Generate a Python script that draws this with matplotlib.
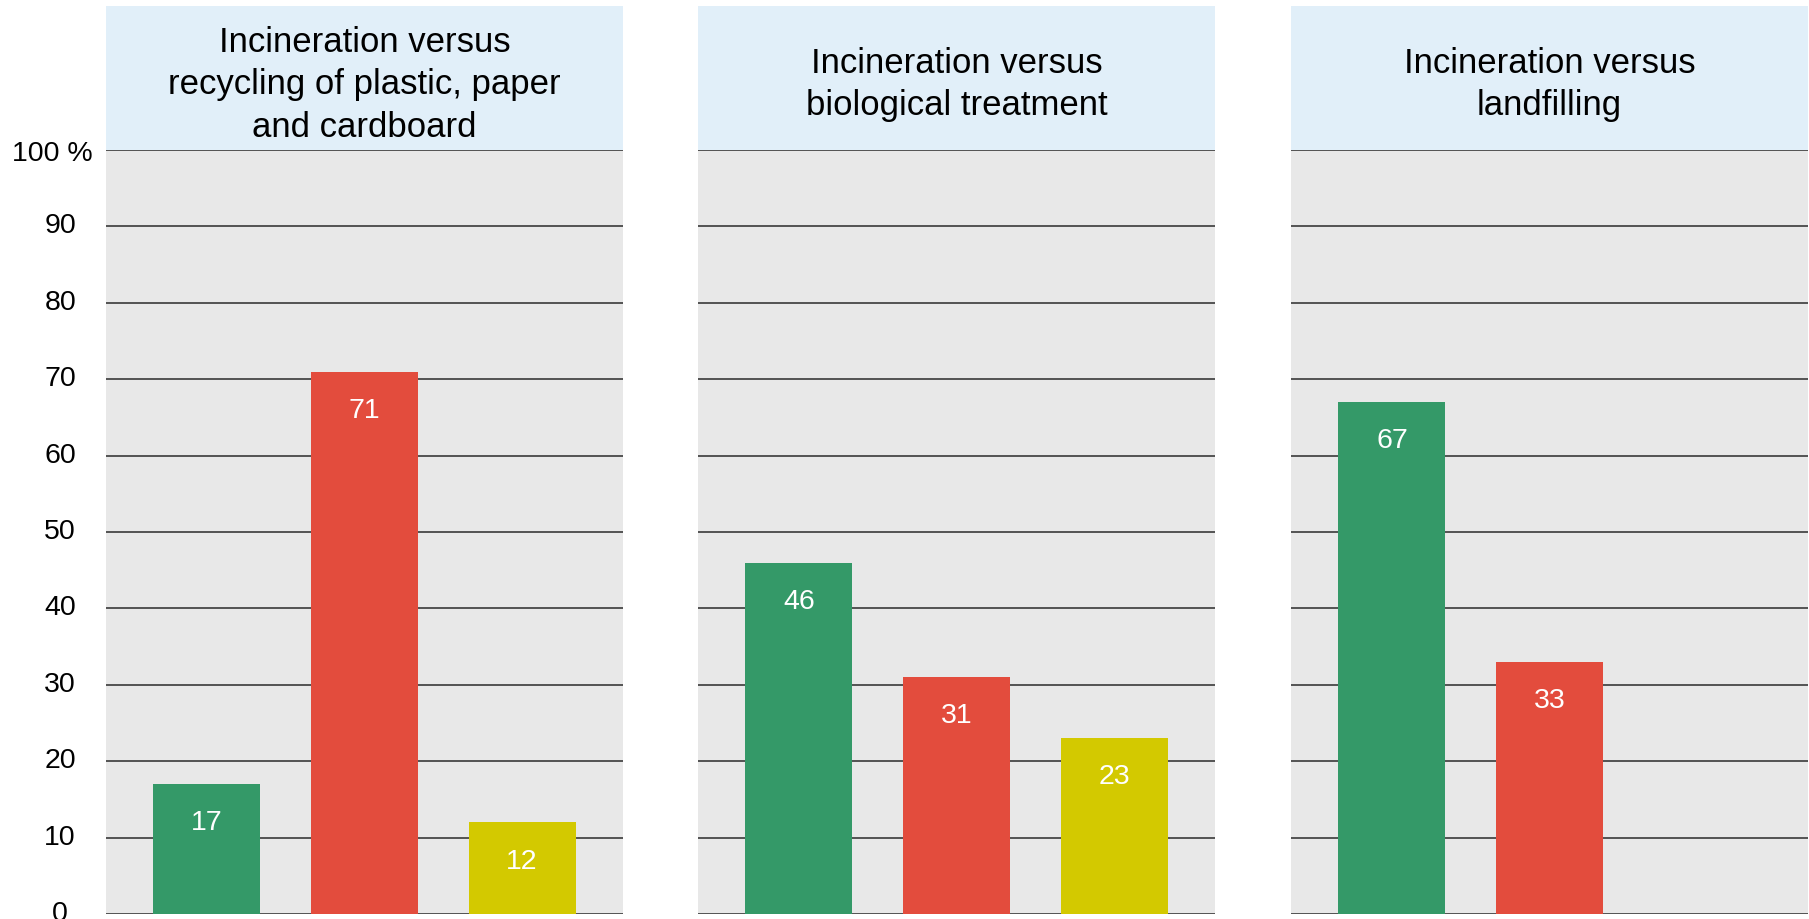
import matplotlib.pyplot as plt
import matplotlib.transforms as mtransforms

titles = [
    "Incineration versus\nrecycling of plastic, paper\nand cardboard",
    "Incineration versus\nbiological treatment",
    "Incineration versus\nlandfilling",
]
values = [
    [17, 71, 12],
    [46, 31, 23],
    [67, 33],
]
bar_colors = ["#349968", "#E34C3D", "#D3C900"]
yticks = [0, 10, 20, 30, 40, 50, 60, 70, 80, 90, 100]
ytick_labels = ["0", "10", "20", "30", "40", "50", "60", "70", "80", "90", "100 %"]

plt.rcParams["font.family"] = ["Liberation Sans", "DejaVu Sans"]

W, H = 1809, 920
fig = plt.figure(figsize=(W / 100, H / 100), dpi=100)

# panel geometry in pixels
lefts = [106, 698, 1291]
pw = 517
y_bot, y_top, y_head = 915, 151, 7

for i, (title, vals) in enumerate(zip(titles, values)):
    ax = fig.add_axes([lefts[i] / W, (H - y_bot) / H, pw / W, (y_bot - y_top) / H])
    ax.set_facecolor("#E8E8E8")
    ax.set_xlim(-0.64, 2.64)
    ax.set_ylim(0, 100)
    ax.set_yticks(yticks)
    ax.yaxis.grid(True, color="#2a2a2a", linewidth=1.1)
    ax.set_axisbelow(True)
    ax.set_xticks([])
    for s in ax.spines.values():
        s.set_visible(False)
    ax.bar(range(len(vals)), vals, width=0.68, color=bar_colors[: len(vals)], zorder=3)
    for x, v in enumerate(vals):
        ax.text(x, v - 5.0, str(v), ha="center", va="center", color="white",
                fontsize=20.5, zorder=4)
    if i == 0:
        labels = ax.set_yticklabels(ytick_labels, fontsize=20.5, ha="center")
        ax.tick_params(axis="y", length=0, pad=33)
        # numbers sit slightly above their lines, "100 %" further left
        up = mtransforms.ScaledTranslation(0, 0.04, fig.dpi_scale_trans)
        left = mtransforms.ScaledTranslation(-0.08, 0, fig.dpi_scale_trans)
        for lab in labels[:-1]:
            lab.set_transform(lab.get_transform() + up)
        labels[-1].set_transform(labels[-1].get_transform() + left)
    else:
        ax.tick_params(axis="y", length=0, labelleft=False)

    # title header box
    hax = fig.add_axes([lefts[i] / W, (H - y_top) / H, pw / W, (y_top - y_head) / H])
    hax.set_facecolor("#E1EFF9")
    hax.set_xticks([])
    hax.set_yticks([])
    for s in hax.spines.values():
        s.set_visible(False)
    hax.text(0.5, 0.46, title, ha="center", va="center", fontsize=25,
             linespacing=1.36, transform=hax.transAxes)

fig.savefig("out.png", dpi=100)
